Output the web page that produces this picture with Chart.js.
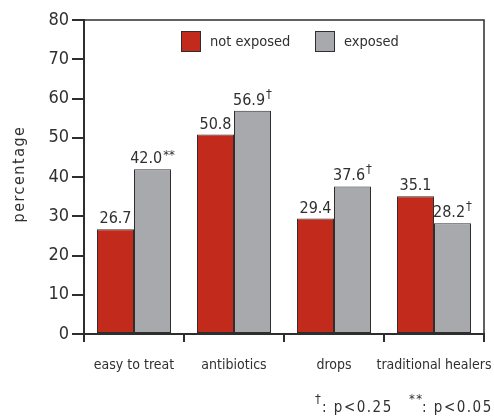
<!DOCTYPE html>
<html>
<head>
<meta charset="utf-8">
<script src="https://cdn.jsdelivr.net/npm/chart.js@4"></script>
<style>
html,body{margin:0;padding:0;background:#fff;}
#wrap{width:494px;height:416px;}
</style>
</head>
<body>
<div id="wrap"><canvas id="chart" width="494" height="416"></canvas></div>
<script>
const categories=["easy to treat","antibiotics","drops","traditional healers"];
const notExposed=[26.7,50.8,29.4,35.1];
const exposed=[42.0,56.9,37.6,28.2];
const notExposedMarks=["","","",""];
const exposedMarks=["**","†","†","†"];
const seriesNames=["not exposed","exposed"];
const yMin=0,yMax=80,yStep=10;

const FONT="'Liberation Sans Narrow','DejaVu Sans Condensed','Roboto Condensed',sans-serif";
const RED="#c22a1b";
const GRAY="#a8a9ac";
const LINE="#2e2e2e";
const TEXT="#303030";

const extras={
    id:"extras",
    afterDraw(chart){
        const ctx=chart.ctx;
        const a=chart.chartArea;
        ctx.save();

        // top + right frame
        ctx.strokeStyle=LINE;
        ctx.lineWidth=1.5;
        ctx.beginPath();
        ctx.moveTo(a.left,a.top);
        ctx.lineTo(a.right,a.top);
        ctx.lineTo(a.right,a.bottom);
        ctx.stroke();

        // value labels
        const marks=[notExposedMarks,exposedMarks];
        chart.data.datasets.forEach((ds,di)=>{
            const meta=chart.getDatasetMeta(di);
            meta.data.forEach((bar,i)=>{
                const txt=ds.data[i].toFixed(1);
                const mk=marks[di][i];
                ctx.font="16px "+FONT;
                const w1=ctx.measureText(txt).width;
                ctx.font="13px "+FONT;
                const w2=mk?ctx.measureText(mk).width+1:0;
                const x0=bar.x-(w1+w2)/2;
                const yb=bar.y-6;
                ctx.fillStyle=TEXT;
                ctx.textAlign="left";
                ctx.textBaseline="alphabetic";
                ctx.font="16px "+FONT;
                ctx.fillText(txt,x0,yb);
                if(mk){
                    ctx.font="13px "+FONT;
                    ctx.fillText(mk,x0+w1+1,yb-(mk==="†"?7:4));
                }
            });
        });

        // legend inside plot
        const lx=[181,315];
        chart.data.datasets.forEach((ds,di)=>{
            ctx.fillStyle=ds.backgroundColor;
            ctx.fillRect(lx[di],31,19,20);
            ctx.strokeStyle=LINE;
            ctx.lineWidth=1;
            ctx.strokeRect(lx[di]+0.5,31.5,19,20);
            ctx.fillStyle=TEXT;
            ctx.font="14.5px "+FONT;
            ctx.textAlign="left";
            ctx.textBaseline="middle";
            ctx.fillText(ds.label,lx[di]+29,42);
        });

        // y title
        ctx.save();
        ctx.translate(20,174);
        ctx.rotate(-Math.PI/2);
        ctx.font="16px "+FONT;
        ctx.letterSpacing="1.5px";
        ctx.textAlign="center";
        ctx.textBaseline="middle";
        ctx.fillStyle=TEXT;
        ctx.fillText("percentage",0,0);
        ctx.restore();

        // footnote
        ctx.fillStyle=TEXT;
        ctx.textAlign="left";
        ctx.textBaseline="alphabetic";
        ctx.letterSpacing="1.5px";
        ctx.font="13px "+FONT;
        ctx.fillText("†",315,403);
        ctx.fillText("**",409,403);
        ctx.font="15px "+FONT;
        ctx.fillText(": p<0.25",322,412);
        ctx.fillText(": p<0.05",422,412);
        ctx.restore();
    }
};

new Chart(document.getElementById("chart"),{
    type:"bar",
    data:{
        labels:categories,
        datasets:[
            {label:seriesNames[0],data:notExposed,backgroundColor:RED,borderColor:LINE,borderWidth:1,borderSkipped:false},
            {label:seriesNames[1],data:exposed,backgroundColor:GRAY,borderColor:LINE,borderWidth:1,borderSkipped:false}
        ]
    },
    options:{
        responsive:false,
        animation:false,
        layout:{padding:{left:0,right:10,top:20,bottom:0}},
        plugins:{legend:{display:false},tooltip:{enabled:false}},
        datasets:{bar:{categoryPercentage:0.74,barPercentage:1.0}},
        scales:{
            x:{
                grid:{offset:true,drawOnChartArea:false,tickLength:8,color:LINE,lineWidth:2},
                border:{display:true,color:LINE,width:2},
                ticks:{color:TEXT,font:{family:FONT,size:14},padding:15,maxRotation:0,autoSkip:false},
                afterFit(scale){scale.height=82;scale.paddingLeft=0;scale.paddingRight=0;}
            },
            y:{
                min:yMin,max:yMax,
                grid:{drawOnChartArea:false,tickLength:12,color:LINE,lineWidth:2},
                border:{display:true,color:LINE,width:2},
                ticks:{stepSize:yStep,color:TEXT,font:{family:FONT,size:18},padding:3},
                afterFit(scale){scale.width=84;scale.paddingTop=0;scale.paddingBottom=0;}
            }
        }
    },
    plugins:[extras]
});
</script>
</body>
</html>
